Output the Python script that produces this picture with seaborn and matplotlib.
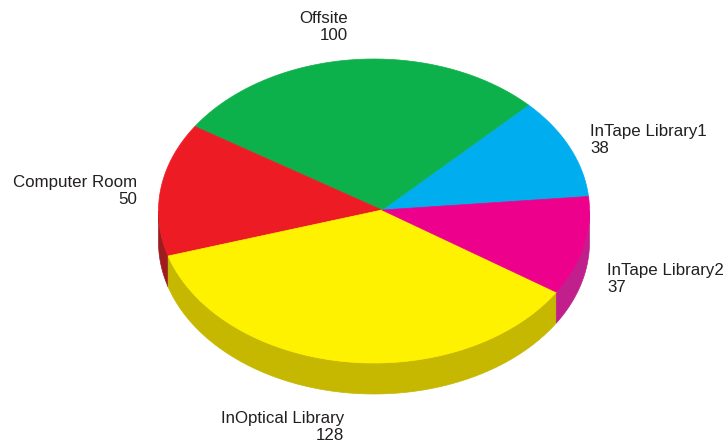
import numpy as np
import matplotlib
matplotlib.use("Agg")
import matplotlib.pyplot as plt
from matplotlib.patches import Polygon
import seaborn as sns

# data (counter-clockwise from the right side of the pie)
labels = ['InTape Library1', 'Offsite', 'Computer Room', 'InOptical Library', 'InTape Library2']
values = [38, 100, 50, 128, 37]
top_colors = ['#00aeef', '#0db14b', '#ed1c24', '#fff200', '#ec008c']
side_colors = ['#0089bd', '#0a8a3a', '#9e1b20', '#c6b800', '#c01f8c']

# label layout: (x, y, ha) in pixels
label_pos = [(590, 124, 'left'), (348, 11, 'right'), (137, 175, 'right'),
             (344, 411, 'right'), (607, 263, 'left')]

sns.set_style('white')
plt.rcParams['font.family'] = ['Liberation Sans', 'DejaVu Sans']

W, H = 725, 443
fig = plt.figure(figsize=(W / 100, H / 100), dpi=100)
ax = fig.add_axes([0, 0, 1, 1])
ax.set_xlim(0, W)
ax.set_ylim(H, 0)
ax.axis('off')

# pie geometry (pixels)
cx, cy = 374, 211      # ellipse centre
apx, apy = 382, 210    # apex of the wedges
rx, ry = 215.5, 152
depth = 31
start = 5.5


def arc(t1, t2, dy=0, n=120):
    t = np.radians(np.linspace(t1, t2, n))
    return np.column_stack([cx + rx * np.cos(t), cy - ry * np.sin(t) + dy])


vals = np.array(values, dtype=float)
edges = start + np.concatenate([[0], np.cumsum(vals)]) / vals.sum() * 360

# side walls (front half only)
for i in range(len(values)):
    a, b = max(edges[i], 180), min(edges[i + 1], 360)
    if b <= a:
        continue
    pts = np.vstack([arc(a, b), arc(b, a, depth)])
    ax.add_patch(Polygon(pts, closed=True, fc=side_colors[i], ec=side_colors[i], lw=0.5))

# top faces
for i in range(len(values)):
    pts = np.vstack([[apx, apy], arc(edges[i], edges[i + 1])])
    ax.add_patch(Polygon(pts, closed=True, fc=top_colors[i], ec=top_colors[i], lw=0.5))

for i, lab in enumerate(labels):
    x, y, ha = label_pos[i]
    ax.text(x, y, f'{lab}\n{values[i]}', ha=ha, va='top', multialignment=ha,
            fontsize=12.2, color='#231f20', linespacing=1.2)

fig.savefig('out.png', dpi=100, facecolor='white')
